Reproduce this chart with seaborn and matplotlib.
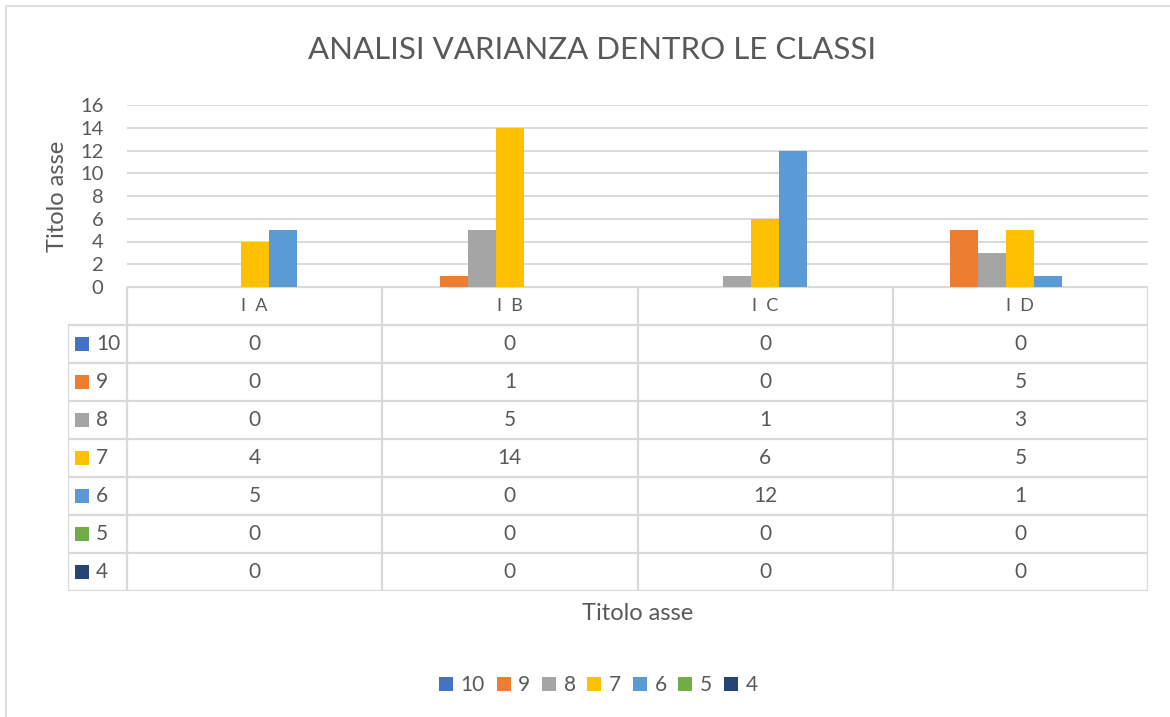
"""Excel-style grouped bar chart with data table: analisi varianza dentro le classi."""

import matplotlib.pyplot as plt
import pandas as pd
import seaborn as sns
from matplotlib.lines import Line2D
from matplotlib.patches import Rectangle

classi = ["I A", "I B", "I C", "I D"]
voti = ["10", "9", "8", "7", "6", "5", "4"]
conteggi = {
    "10": [0, 0, 0, 0],
    "9": [0, 1, 0, 5],
    "8": [0, 5, 1, 3],
    "7": [4, 14, 6, 5],
    "6": [5, 0, 12, 1],
    "5": [0, 0, 0, 0],
    "4": [0, 0, 0, 0],
}
colori = ["#4472C4", "#ED7D31", "#A5A5A5", "#FFC000", "#5B9BD5", "#70AD47", "#264478"]
y_ticks = [0, 2, 4, 6, 8, 10, 12, 14, 16]

W, H = 1170, 717
GRID = "#d9d9d9"
TEXT = "#595959"

sns.set_theme(style="white")
plt.rcParams["font.family"] = ["Lato", "DejaVu Sans"]

df = pd.DataFrame(
    [(c, v, conteggi[v][i]) for v in voti for i, c in enumerate(classi)],
    columns=["classe", "voto", "n"],
)

fig = plt.figure(figsize=(W / 100, H / 100), dpi=100)
fig.patches.append(Rectangle((6 / W, -0.1), 1.2, 1 - 6 / H + 0.1, transform=fig.transFigure,
                             fill=False, edgecolor=GRID, lw=1.2))

# chart area
ax = fig.add_axes([127 / W, (H - 287) / H, 1021 / W, 182 / H])
sns.barplot(data=df, x="classe", y="n", hue="voto", order=classi, hue_order=voti,
            palette=colori, width=0.77, gap=0, saturation=1, errorbar=None,
            linewidth=0, legend=False, ax=ax, zorder=3)
ax.set_xlim(-0.5, 3.5)
ax.set_ylim(0, 16)
ax.set_yticks(y_ticks)
ax.set_xticks([])
ax.set_xlabel("")
ax.set_ylabel("")
ax.grid(True, axis="y", color=GRID, lw=1.4)
ax.set_axisbelow(True)
for s in ax.spines.values():
    s.set_visible(False)
ax.tick_params(axis="y", length=0, pad=17, labelsize=14.5, labelcolor=TEXT)

# data table
tab = fig.add_axes([68 / W, (H - 591) / H, (1148 - 68) / W, 304 / H])
left = -0.5 - 59 / 255.25
tab.set_xlim(left, 3.5)
tab.set_ylim(8, 0)
tab.axis("off")
lk = dict(color=GRID, lw=1.6, solid_capstyle="projecting")
tab.plot([-0.5, 3.5], [0, 0], **lk)
for r in range(1, 9):
    tab.plot([left, 3.5], [r, r], **lk)
tab.plot([left, left], [1, 8], **lk)
for x in [-0.5, 0.5, 1.5, 2.5, 3.5]:
    tab.plot([x, x], [0, 8], **lk)

for j, c in enumerate(classi):
    tab.text(j, 0.5, c.replace(" ", "  "), ha="center", va="center", fontsize=13, color=TEXT)
for i, v in enumerate(voti):
    tab.scatter([-0.676], [i + 1.5], marker="s", s=100, color=colori[i], linewidths=0)
    tab.text(-0.622, i + 1.5, v, ha="left", va="center", fontsize=15, color=TEXT)
    for j in range(len(classi)):
        tab.text(j, i + 1.5, str(conteggi[v][j]), ha="center", va="center",
                 fontsize=15, color=TEXT)

# titles
fig.text(592 / W, 1 - 50 / H, "ANALISI VARIANZA DENTRO LE CLASSI", ha="center", va="center",
         fontsize=22.5, color=TEXT)
fig.text(58 / W, 1 - 196 / H, "Titolo asse", ha="center", va="center", rotation=90,
         fontsize=17, color=TEXT)
fig.text(638 / W, 1 - 614 / H, "Titolo asse", ha="center", va="center", fontsize=17, color=TEXT)

handles = [Line2D([], [], marker="s", markersize=10, linestyle="none", color=c, markeredgewidth=0)
           for c in colori]
fig.legend(handles, voti, loc="center", bbox_to_anchor=(597 / W, 1 - 685 / H), ncol=7,
           frameon=False, fontsize=15, labelcolor=TEXT, handletextpad=0.25, columnspacing=0.45,
           handlelength=0.9)

fig.savefig("out.png", dpi=100)
